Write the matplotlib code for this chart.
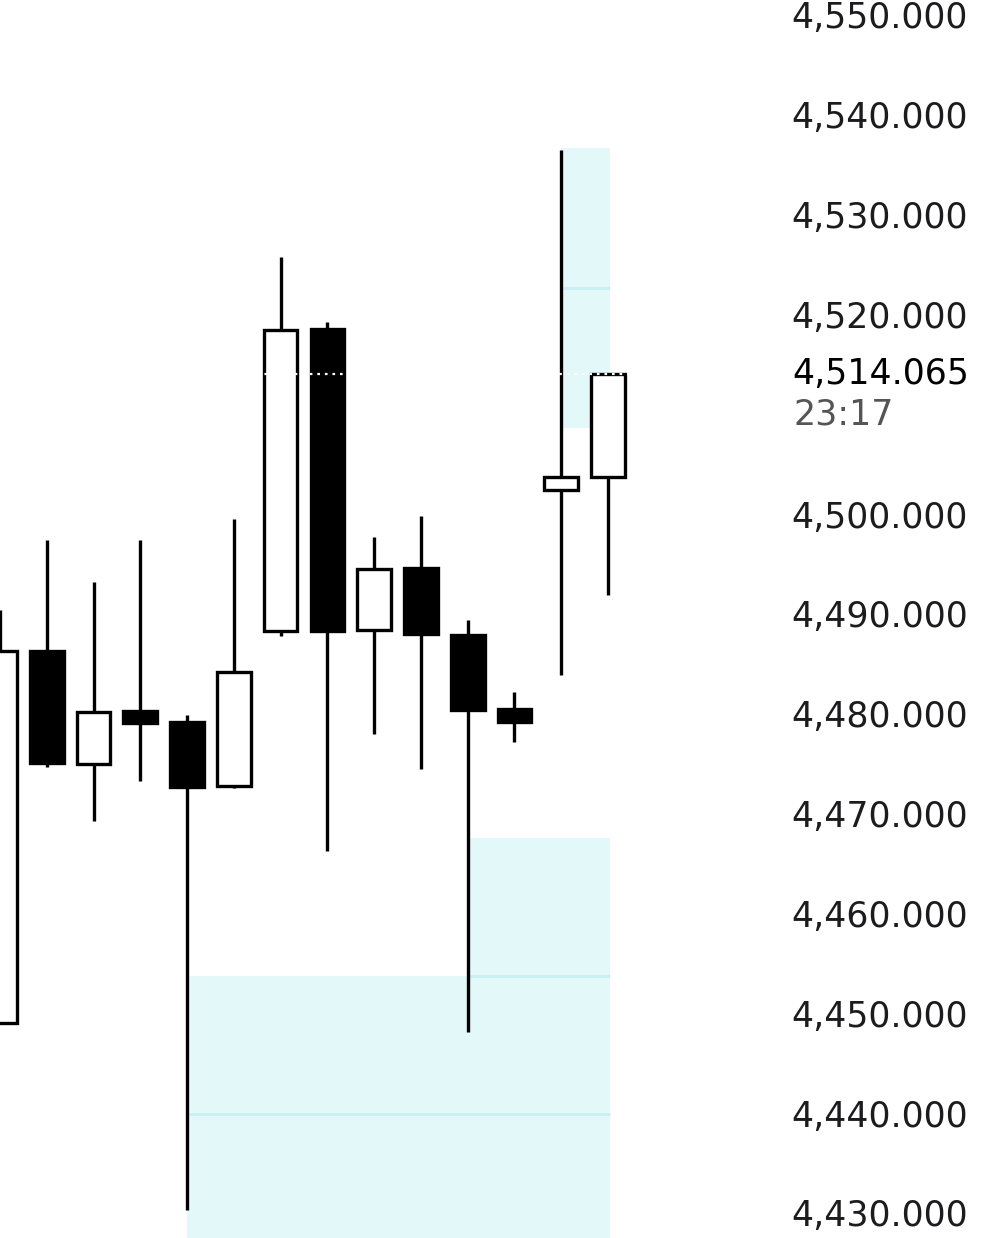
import matplotlib.pyplot as plt
from matplotlib.ticker import FuncFormatter

# OHLC values (one candle per slot)
opens = [4449.0, 4486.3, 4475.0, 4480.3, 4479.2, 4472.8, 4488.3, 4518.5,
         4488.4, 4494.6, 4487.9, 4480.5, 4502.4, 4503.7]
highs = [4490.4, 4497.4, 4493.2, 4497.4, 4479.9, 4499.5, 4525.8, 4519.2,
         4497.7, 4499.8, 4489.4, 4482.2, 4536.5, 4514.065]
lows = [4449.0, 4474.7, 4469.3, 4473.3, 4430.3, 4472.6, 4487.8, 4466.3,
        4478.0, 4474.5, 4448.1, 4477.2, 4483.9, 4491.9]
closes = [4486.3, 4475.1, 4480.2, 4479.1, 4472.7, 4484.2, 4518.4, 4488.3,
          4494.5, 4488.0, 4480.4, 4479.2, 4503.7, 4514.065]

# shaded zones: start candle, top, middle, bottom
zone_start = [4, 10, 12]
zone_top = [4453.7, 4467.6, 4536.7]
zone_mid = [4439.9, 4453.7, 4522.7]
zone_bottom = [4426.1, 4439.9, 4508.6]

# axis ticks (4,510 is covered by the last price label)
yticks = [4430, 4440, 4450, 4460, 4470, 4480, 4490, 4500, 4520, 4530, 4540, 4550]

last_price = 4514.065
countdown = "23:17"

fig = plt.figure(figsize=(10.06, 12.38), dpi=100)
ax = fig.add_axes([0, 0, 780 / 1006, 1])

n = len(opens)
zone_fill = "#e3f8f8"
zone_line = "#c9eef4"
for s, t, m, b in zip(zone_start, zone_top, zone_mid, zone_bottom):
    ax.fill_between([s, n - 1 + 0.05], b, t, color=zone_fill, lw=0, zorder=0)
    ax.hlines(m, s, n - 1 + 0.05, color=zone_line, lw=2, zorder=0.5)

w = 0.72
for i in range(n):
    o, h, l, c = opens[i], highs[i], lows[i], closes[i]
    ax.vlines(i, l, h, color="black", lw=2.4, zorder=1)
    up = c >= o
    ax.bar(i, abs(c - o), bottom=min(o, c), width=w,
           color="white" if up else "black", edgecolor="black",
           linewidth=2.4, zorder=2)

# last price line
ax.axhline(last_price, color="white", lw=1.6, ls=(0, (1.2, 2.2)), zorder=3)

ax.set_xlim(0, 780 / 46.77)
ax.set_ylim(4427.49, 4551.5)

ax.yaxis.tick_right()
ax.set_yticks(yticks)
ax.yaxis.set_major_formatter(FuncFormatter(lambda v, p: f"{v:,.3f}"))
ax.tick_params(axis="y", length=0, pad=8, labelsize=25, labelcolor="#1c1c1e")
ax.set_xticks([])
for sp in ax.spines.values():
    sp.set_visible(False)

yt = ax.get_yaxis_transform()
ax.annotate(f"{last_price:,.3f}", xy=(1.0, last_price), xycoords=yt,
            xytext=(12, 0), textcoords="offset pixels", ha="left", va="center",
            fontsize=25, color="black", annotation_clip=False)
ax.annotate(countdown, xy=(1.0, last_price), xycoords=yt,
            xytext=(13, -41), textcoords="offset pixels", ha="left", va="center",
            fontsize=25, color="#555555", annotation_clip=False)

fig.savefig("out.png", dpi=100)
